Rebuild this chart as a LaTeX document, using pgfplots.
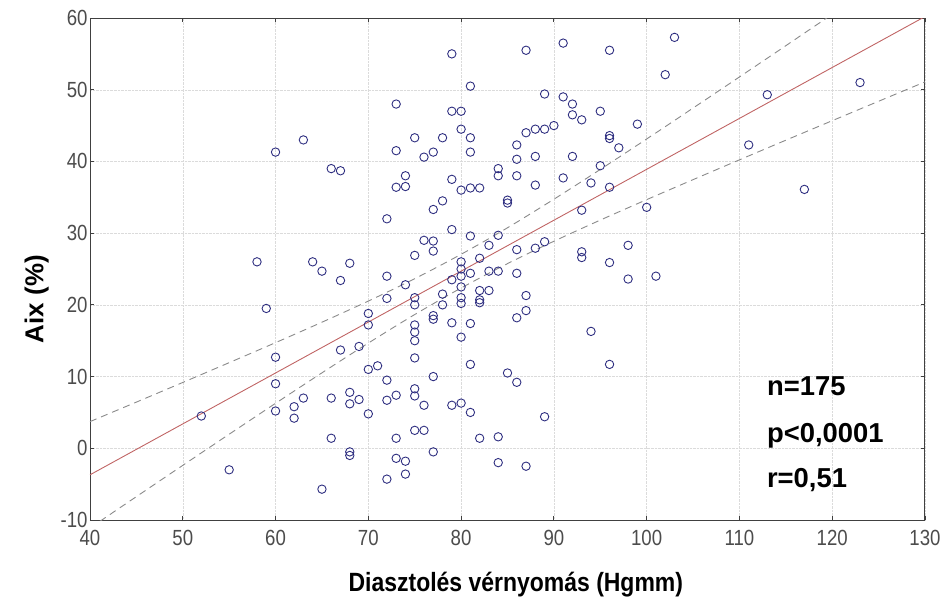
\documentclass[border=0pt]{standalone}
\usepackage{fontspec}
\setmainfont{Liberation Sans}
\newfontfamily\narrowfont[FakeStretch=0.85]{Liberation Sans}
\newfontfamily\narrowbold[FakeStretch=0.87]{Liberation Sans Bold}
\usepackage{pgfplots}
\pgfplotsset{compat=1.18}
\definecolor{markblue}{HTML}{2E2E80}
\definecolor{fitred}{HTML}{C06464}
\definecolor{bandgray}{HTML}{8A8A8A}

\pgfplotstableread{
x y
52 4.5
55 -3
58 26
59 19.5
60 41.3
60 12.7
60 9
60 5.2
62 5.8
62 4.2
63 43
63 7
64 26
65 24.7
65 -5.7
66 39
66 7
66 1.4
67 38.7
67 23.4
67 13.7
68 25.8
68 7.8
68 6.2
68 -0.5
68 -1
69 14.2
69 6.8
70 18.8
70 17.2
70 11
70 4.8
71 11.5
72 32
72 24
72 20.9
72 9.5
72 6.7
72 -4.3
73 48
73 41.5
73 36.4
73 7.4
73 1.4
73 -1.4
74 38
74 36.5
74 22.8
74 -1.8
74 -3.6
75 43.3
75 26.9
75 21
75 20
75 17.2
75 16.2
75 15
75 12.6
75 8.3
75 7.3
75 2.5
76 40.6
76 29
76 6
76 2.5
77 41.3
77 33.3
77 28.9
77 27.5
77 18.5
77 18
77 10
77 -0.5
78 43.3
78 34.5
78 21.5
78 20
79 55
79 47
79 37.5
79 30.5
79 23.5
79 17.5
79 6
80 47
80 44.5
80 36
80 26
80 25
80 24
80 22.5
80 21
80 20.2
80 15.5
80 6.3
81 50.5
81 43.3
81 41.3
81 36.3
81 29.6
81 24.4
81 17.4
81 11.7
81 5
82 36.3
82 26.5
82 22
82 20.7
82 20.3
82 1.4
83 28.3
83 24.7
83 22
84 39
84 38
84 29.7
84 24.7
84 1.6
84 -2
85 34.6
85 34.2
85 10.5
86 42.3
86 40.3
86 38
86 27.7
86 24.4
86 18.2
86 9.2
87 55.5
87 44
87 21.3
87 19.2
87 -2.5
88 44.5
88 40.7
88 36.7
88 27.9
89 49.4
89 44.5
89 28.8
89 4.4
90 45
91 56.5
91 49
91 37.7
92 48
92 46.5
92 40.7
93 45.8
93 33.2
93 27.4
93 26.6
94 37
94 16.3
95 47
95 39.4
96 55.5
96 43.6
96 43.2
96 36.4
96 25.9
96 11.7
97 41.9
98 28.3
98 23.6
99 45.2
100 33.6
101 24
102 52.1
103 57.3
111 42.3
113 49.3
117 36.1
123 51
}\pts

\pgfplotstableread{
x fit upper lower
40 -3.70 3.72 -11.12
45 -0.15 6.44 -6.74
50 3.40 9.18 -2.38
55 6.95 11.94 1.96
60 10.50 14.73 6.27
65 14.05 17.58 10.52
70 17.60 20.53 14.67
75 21.15 23.65 18.65
80 24.70 27.05 22.35
85 28.25 30.75 25.75
90 31.80 34.73 28.87
95 35.35 38.88 31.82
100 38.90 43.13 34.67
105 42.45 47.44 37.46
110 46.00 51.78 40.22
115 49.55 56.14 42.96
120 53.10 60.52 45.68
125 56.65 64.91 48.39
130 60.20 69.31 51.09
}\band

\begin{document}
\begin{tikzpicture}
\path[use as bounding box] (-90bp,-81bp) rectangle (853bp,520bp);
\begin{axis}[
    at={(0,0)}, anchor=south west,
    scale only axis,
    width=835bp, height=502bp,
    xmin=40, xmax=130, ymin=-10, ymax=60,
    xtick={40,50,...,130},
    ytick={-10,0,...,60},
    grid=major,
    grid style={densely dotted, black!14},
    axis line style={black!75, line width=1pt},
    tick style={black!75, line width=0.8pt},
    major tick length=4bp,
    /pgf/number format/assume math mode=true,
    ticklabel style={font=\narrowfont\fontsize{22}{25}\selectfont, text=black!70},
    xticklabel style={yshift=-7bp},
    yticklabel style={xshift=1bp},
    xlabel={Diasztolés vérnyomás (Hgmm)},
    ylabel={Aix (\%)},
    xlabel style={at={(axis description cs:0.51,-0.128)}, anchor=center,
        font=\narrowbold\fontsize{26.5}{29}\selectfont},
    ylabel style={at={(axis description cs:-0.064,0.44)}, anchor=center,
        font=\fontsize{26}{29}\selectfont\bfseries},
    clip=true,
]
\addplot[fitred, line width=0.9pt] table[x=x, y=fit] {\band};
\addplot[bandgray, line width=0.9pt, dash pattern=on 7bp off 5bp, smooth] table[x=x, y=upper] {\band};
\addplot[bandgray, line width=0.9pt, dash pattern=on 7bp off 5bp, smooth] table[x=x, y=lower] {\band};
\addplot[only marks, mark=o, mark size=4.2bp, markblue, mark options={line width=0.9pt}] table[x=x, y=y] {\pts};
\node[anchor=west, font=\fontsize{27.5}{30}\selectfont\bfseries] at (axis cs:112.6,8.6) {n=175};
\node[anchor=west, font=\fontsize{27.5}{30}\selectfont\bfseries] at (axis cs:112.6,1.8) {p<0,0001};
\node[anchor=west, font=\fontsize{27.5}{30}\selectfont\bfseries] at (axis cs:112.6,-4.4) {r=0,51};
\end{axis}
\end{tikzpicture}
\end{document}
